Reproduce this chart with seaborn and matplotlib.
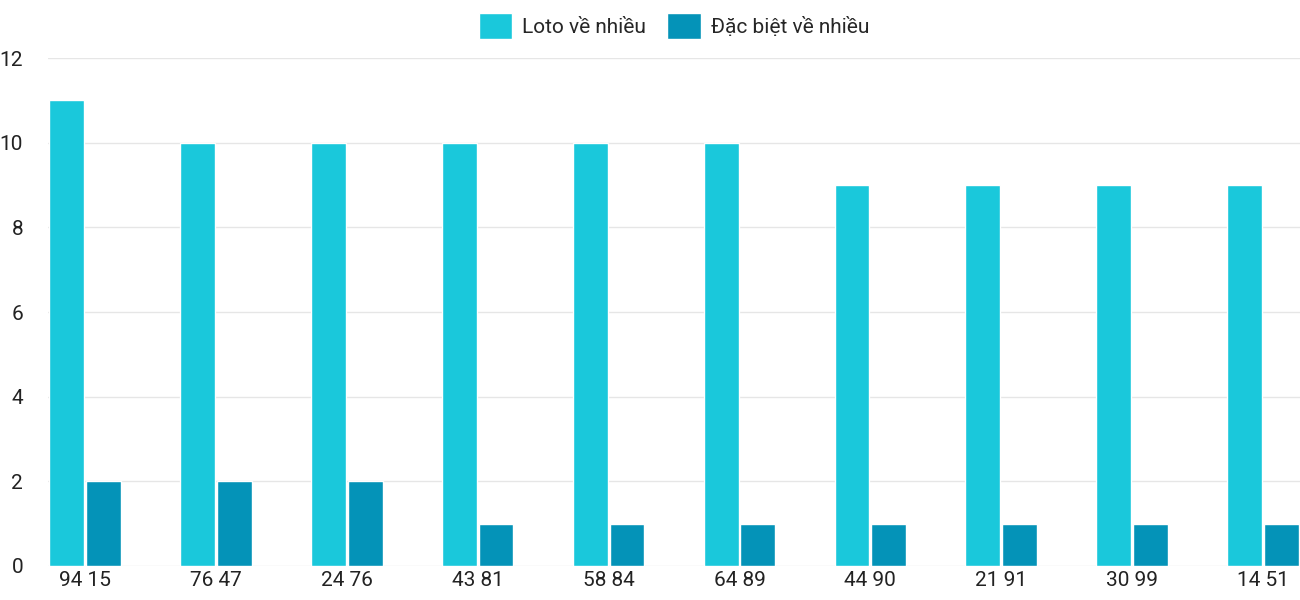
import pandas as pd
import matplotlib
matplotlib.use("Agg")
import matplotlib.pyplot as plt
import seaborn as sns

categories = ["94 15", "76 47", "24 76", "43 81", "58 84", "64 89", "44 90", "21 91", "30 99", "14 51"]
loto_values = [11, 10, 10, 10, 10, 10, 9, 9, 9, 9]
special_values = [2, 2, 2, 1, 1, 1, 1, 1, 1, 1]
series_names = ["Loto về nhiều", "Đặc biệt về nhiều"]
colors = ["#1AC8DB", "#0493B8"]

df = pd.DataFrame({
    "cat": categories * 2,
    "value": loto_values + special_values,
    "series": [series_names[0]] * 10 + [series_names[1]] * 10,
})

sns.set_style("white")
plt.rcParams["font.family"] = ["Roboto", "DejaVu Sans"]

fig = plt.figure(figsize=(13, 6), dpi=100)
ax = fig.add_axes([0.037, 0.057, 0.963, 0.846])
sns.barplot(data=df, x="cat", y="value", hue="series", palette=colors,
            width=0.56, gap=0.05, ax=ax, saturation=1)

ax.set_xlim(-0.283, 9.283)
ax.set_ylim(0, 12)
ax.set_yticks(range(0, 13, 2))
ax.yaxis.grid(True, color="#e6e6e6", linewidth=1)
ax.set_axisbelow(True)
for s in ax.spines.values():
    s.set_visible(False)
ax.set_xlabel("")
ax.set_ylabel("")
ax.tick_params(axis="both", labelsize=15, length=0, colors="#222222")
ax.tick_params(axis="y", pad=18)
ax.tick_params(axis="x", pad=4)

ax.legend(loc="lower center", bbox_to_anchor=(0.5, 1.0), ncol=2, frameon=False,
          fontsize=15, handlelength=1.6, handleheight=1.6, columnspacing=1.0,
          handletextpad=0.5)

fig.savefig("out.png", dpi=100)
